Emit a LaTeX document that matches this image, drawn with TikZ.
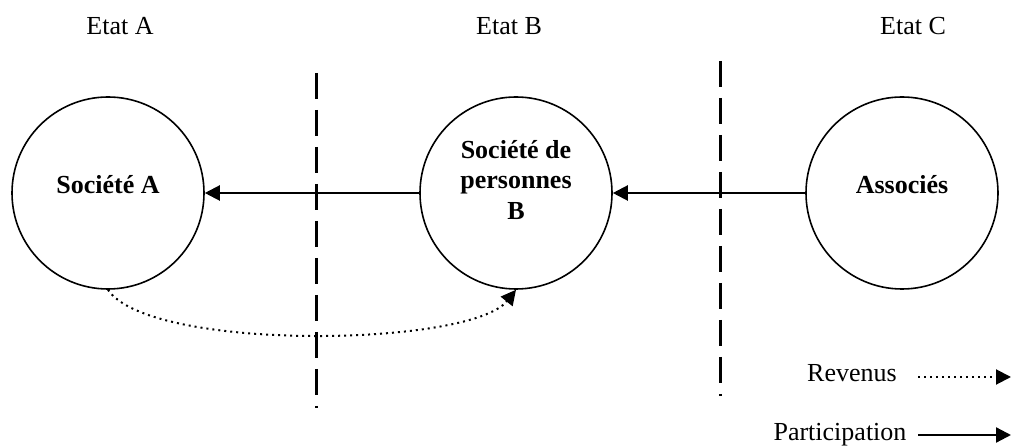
\documentclass[tikz,border=0pt]{standalone}
\usepackage{fontspec}
\setmainfont{Liberation Serif}
\usepackage{tikz}
\usetikzlibrary{arrows.meta,positioning}

\begin{document}
\begin{tikzpicture}[x=0.5pt,y=-0.5pt,
    every node/.style={font=\fontsize{13}{15.3}\selectfont},
    etat/.style={anchor=base},
    societe/.style={draw, circle, line width=0.8pt, minimum size=96pt, inner sep=0pt},
    nom/.style={font=\fontsize{13}{15.3}\selectfont\bfseries, align=center},
    participation/.style={line width=1.1pt, -{Triangle[length=7.5pt,width=7.5pt]}},
    revenus/.style={line width=1pt, dash pattern=on 1pt off 2pt,
        -{Triangle[length=7.5pt,width=7.5pt]}},
    frontiere/.style={line width=1.5pt, dash pattern=on 13pt off 5.5pt}]
    \useasboundingbox (0,0) rectangle (1012,448);

    % states
    \node[etat] (etatA) at (120,35) {Etat A};
    \node[etat] (etatB) at (509,35) {Etat B};
    \node[etat] (etatC) at (913,35) {Etat C};

    % borders
    \coordinate (frontAB) at (316,73);
    \coordinate (frontABbas) at (316,408);
    \coordinate (frontBC) at (720,61);
    \coordinate (frontBCbas) at (720,396);
    \draw[frontiere] (frontAB) -- (frontABbas);
    \draw[frontiere] (frontBC) -- (frontBCbas);

    % companies
    \node[societe] (socA) at (108,193) {};
    \node[societe] (socB) at (516,193) {};
    \node[societe] (assoc) at (902,193) {};
    \node[nom] (nomA) at ([yshift=4pt]socA) {Soci\'et\'e A};
    \node[nom] (nomB) at ([yshift=6.5pt]socB) {Soci\'et\'e de\\personnes\\B};
    \node[nom] (nomC) at ([yshift=4pt]assoc) {Associ\'es};

    % participations and income
    \draw[participation] (socB) -- (socA);
    \draw[participation] (assoc) -- (socB);
    \draw[revenus] (socA.south) .. controls (150,352) and (470,347) .. (socB.south);

    % legend
    \node[anchor=base] (rev) at (852,382) {Revenus};
    \coordinate (revdeb) at (918,377);
    \coordinate (revfin) at (1011,377);
    \draw[revenus] (revdeb) -- (revfin);
    \node[anchor=base] (part) at (840,441) {Participation};
    \coordinate (partdeb) at (918,435);
    \coordinate (partfin) at (1011,435);
    \draw[participation] (partdeb) -- (partfin);
\end{tikzpicture}
\end{document}
